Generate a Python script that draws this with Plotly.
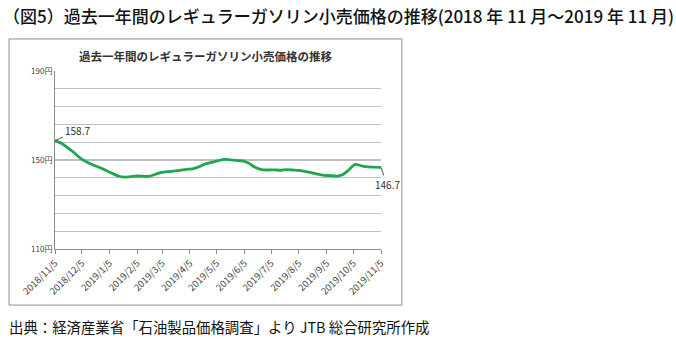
import plotly.graph_objects as go

# ---- data ----
dates = [
    "2018-11-05", "2018-11-12", "2018-11-19", "2018-11-26", "2018-12-03", "2018-12-10",
    "2018-12-17", "2018-12-25", "2019-01-07", "2019-01-15", "2019-01-21", "2019-01-28",
    "2019-02-04", "2019-02-12", "2019-02-18", "2019-02-25", "2019-03-04", "2019-03-11",
    "2019-03-18", "2019-03-25", "2019-04-01", "2019-04-08", "2019-04-15", "2019-04-22",
    "2019-05-07", "2019-05-13", "2019-05-20", "2019-05-27", "2019-06-03", "2019-06-10",
    "2019-06-17", "2019-06-24", "2019-07-01", "2019-07-08", "2019-07-16", "2019-07-22",
    "2019-07-29", "2019-08-05", "2019-08-13", "2019-08-19", "2019-08-26", "2019-09-02",
    "2019-09-09", "2019-09-17", "2019-09-24", "2019-09-30", "2019-10-07", "2019-10-15",
    "2019-10-21", "2019-10-28", "2019-11-05",
]
prices = [
    158.7, 157.5, 155.6, 153.4, 151.0, 149.2,
    147.9, 146.6, 144.2, 142.8, 142.3, 142.5,
    142.8, 142.7, 142.6, 143.5, 144.4, 144.8,
    145.0, 145.3, 145.8, 146.0, 146.9, 148.2,
    149.7, 150.3, 150.1, 149.8, 149.6, 148.5,
    146.7, 145.7, 145.5, 145.6, 145.4, 145.7,
    145.5, 145.3, 144.8, 144.3, 143.6, 143.1,
    143.0, 142.8, 143.6, 145.6, 148.0, 147.3,
    146.9, 146.8, 146.7,
]
x_tickvals = [
    "2018-11-05", "2018-12-05", "2019-01-05", "2019-02-05", "2019-03-05", "2019-04-05",
    "2019-05-05", "2019-06-05", "2019-07-05", "2019-08-05", "2019-09-05", "2019-10-05",
    "2019-11-05",
]
x_ticktext = [
    "2018/11/5", "2018/12/5", "2019/1/5", "2019/2/5", "2019/3/5", "2019/4/5",
    "2019/5/5", "2019/6/5", "2019/7/5", "2019/8/5", "2019/9/5", "2019/10/5",
    "2019/11/5",
]
y_tickvals = [110, 118, 126, 134, 142, 150, 158, 166, 174, 182, 190]
y_ticktext = ["110円", "", "", "", "", "150円", "", "", "", "", "190円"]

page_title = "（図5）過去一年間のレギュラーガソリン小売価格の推移(2018 年 11 月～2019 年 11 月)"
chart_title = "過去一年間のレギュラーガソリン小売価格の推移"
source_text = "出典：経済産業省「石油製品価格調査」より JTB 総合研究所作成"

FONT = "Noto Sans CJK JP"

fig = go.Figure()
fig.add_trace(go.Scatter(
    x=dates, y=prices, mode="lines",
    line=dict(color="#22a550", width=2.8, shape="spline", smoothing=0.6),
    hoverinfo="x+y", showlegend=False,
))

# darker major gridline at 150
fig.add_shape(type="line", xref="paper", yref="y", x0=0, x1=1, y0=150, y1=150,
              line=dict(color="#7a7a7a", width=1), layer="below")

# outer chart frame
fig.add_shape(type="rect", xref="paper", yref="paper",
              x0=-0.141, x1=1.064, y0=-0.315, y1=1.18,
              line=dict(color="#8c8c8c", width=1), fillcolor="rgba(0,0,0,0)")

annotations = [
    dict(text=page_title, xref="paper", yref="paper", x=-0.165, y=1.31,
         xanchor="left", yanchor="middle", showarrow=False,
         font=dict(family=FONT, size=17, color="#111111", weight=500)),
    dict(text="<b>" + chart_title + "</b>", xref="paper", yref="paper", x=0.463, y=1.084,
         xanchor="center", yanchor="middle", showarrow=False,
         font=dict(family=FONT, size=11.5, color="#333333")),
    dict(text=source_text, xref="paper", yref="paper", x=-0.147, y=-0.433,
         xanchor="left", yanchor="middle", showarrow=False,
         font=dict(family=FONT, size=14.4, color="#111111")),
    dict(text=str(prices[0]), x=dates[0], y=prices[0], xref="x", yref="y",
         showarrow=True, arrowhead=0, arrowwidth=1, arrowcolor="#555555",
         ax=22, ay=-10, font=dict(family=FONT, size=10, color="#333333")),
    dict(text=str(prices[-1]), x=dates[-1], y=prices[-1], xref="x", yref="y",
         showarrow=True, arrowhead=0, arrowwidth=1, arrowcolor="#555555",
         ax=6, ay=17, font=dict(family=FONT, size=10, color="#333333")),
]

fig.update_layout(
    width=676, height=343,
    margin=dict(l=55, r=295, t=71, b=94),
    paper_bgcolor="white", plot_bgcolor="white",
    font=dict(family=FONT),
    annotations=annotations,
    xaxis=dict(
        type="date", range=["2018-11-05", "2019-11-05"],
        tickvals=x_tickvals, ticktext=x_ticktext, tickangle=-45,
        tickfont=dict(family=FONT, size=9.5, color="#404040"),
        showgrid=False, showline=True, linecolor="#8c8c8c", linewidth=1,
        ticks="outside", ticklen=4, tickcolor="#8c8c8c", zeroline=False,
    ),
    yaxis=dict(
        range=[110, 190], tickvals=y_tickvals, ticktext=y_ticktext,
        tickfont=dict(family=FONT, size=8, color="#404040"),
        showgrid=True, gridcolor="#c0c0c0", gridwidth=1,
        showline=True, linecolor="#8c8c8c", linewidth=1,
        ticks="", zeroline=False,
    ),
)

fig.write_html("out.html")
